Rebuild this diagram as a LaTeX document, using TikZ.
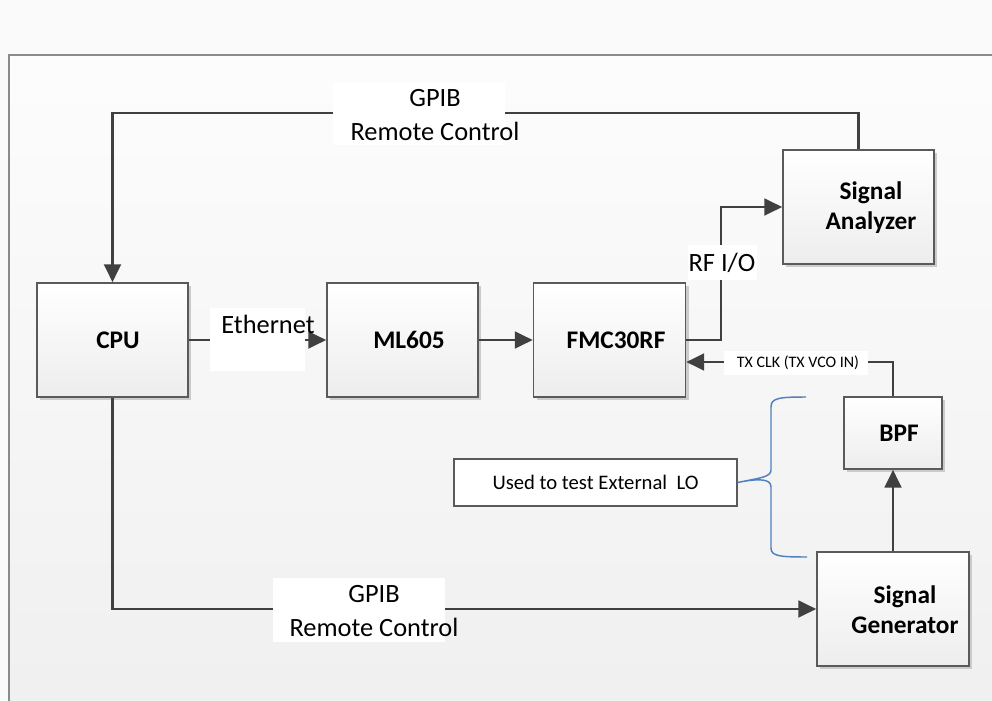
\documentclass[tikz,border=0pt]{standalone}
\usepackage{fontspec}
\setmainfont{Carlito}
\usetikzlibrary{arrows.meta,shadows}
\definecolor{conncol}{HTML}{404040}
\definecolor{boxline}{HTML}{5A5A5A}
\definecolor{framecol}{HTML}{8A8A8A}
\definecolor{bracecol}{HTML}{4F81BD}
\definecolor{shadowcol}{HTML}{CBCBCB}
\tikzset{
  blockbox/.style={draw=boxline, line width=1.1pt, top color=white, bottom color=black!7,
    shading angle=0, drop shadow={shadow xshift=2.4pt, shadow yshift=-2.4pt, fill=shadowcol, opacity=1},
    inner sep=0pt},
  blocktext/.style={font=\fontsize{19}{22.5}\selectfont\bfseries, align=center, inner sep=0pt},
  conn/.style={draw=conncol, line width=2.2pt, -{Triangle[length=13.5pt,width=12.5pt]}},
  whitelab/.style={fill=white, draw=none, inner sep=0pt},
  labtext/.style={font=\fontsize{19.8}{25}\selectfont, align=center, inner sep=0pt},
}
\begin{document}
\begin{tikzpicture}[x=0.75pt,y=-0.75pt]
\useasboundingbox (0,0) rectangle (992,700);
% background
\fill[color=white!98!black] (0,0) rectangle (992,700);
\shade[top color=white!99!black, bottom color=white!94!black] (9,55) rectangle (995,705);
\draw[framecol, line width=1.5pt] (995,55) -- (9,55) -- (9,705);

% blocks
\node[blockbox, minimum width=113.25pt, minimum height=85.5pt] (cpu) at (112.5,340) {};
\node[blockbox, minimum width=113.25pt, minimum height=85.5pt] (ml) at (402.5,340) {};
\node[blockbox, minimum width=114pt, minimum height=85.5pt] (fmc) at (609.5,340) {};
\node[blockbox, minimum width=113.25pt, minimum height=85.5pt] (sa) at (858.5,207) {};
\node[blockbox, minimum width=73.5pt, minimum height=54pt] (bpf) at (893,433) {};
\node[blockbox, minimum width=114pt, minimum height=85.5pt] (sg) at (893,609) {};

\node[blocktext] (cput) at (118,340) {CPU};
\node[blocktext] (mlt) at (409,340) {ML605};
\node[blocktext] (fmct) at (616,340) {FMC30RF};
\node[blocktext] (sat) at (871,208) {Signal\\Analyzer};
\node[blocktext] (bpft) at (899,433) {BPF};
\node[blocktext] (sgt) at (905,610) {Signal\\Generator};

% note box
\node[draw=boxline, line width=0.9pt, fill=white, minimum width=212.25pt, minimum height=35.25pt, inner sep=0pt,
  font=\fontsize{15.5}{18}\selectfont] (lo) at (595.5,482.5) {Used to test External\ \ LO};

% brace
\draw[bracecol, line width=1.1pt] (806,397) .. controls (779,397) and (771,398) .. (771,407)
  -- (771,470) .. controls (771,477) and (760,478) .. (lo.east)
  .. controls (760,478) and (771,479) .. (771,487)
  -- (771,548) .. controls (771,556) and (779,557) .. (807,557);

% connectors
\coordinate (gtop) at (0,113);
\draw[conn] (sa.north) -- (sa.north |- gtop) -| (cpu.north);
\node[whitelab, minimum width=129pt, minimum height=46.5pt] (glab1) at (419,114) {};
\node[labtext] (glab1t) at (435,115) {GPIB\\Remote Control};

\draw[conn] (cpu.east) -- (ml.west);
\node[whitelab, minimum width=71.25pt, minimum height=47.25pt] (elab) at (257.5,339.5) {};
\node[labtext] (elabt) at (268,324) {Ethernet};

\draw[conn] (ml.east) -- (fmc.west);

\coordinate (rfx) at (721,0);
\draw[conn] (fmc.east) -- (fmc.east -| rfx) |- (sa.west);
\node[whitelab, minimum width=51.75pt, minimum height=26.25pt] (rflab) at (722.5,262.5) {};
\node[labtext] (rflabt) at (722,263) {RF I/O};

\coordinate (txy) at (0,362);
\draw[conn] (bpf.north) |- (fmc.east |- txy);
\node[whitelab, minimum width=108pt, minimum height=18pt] (txlab) at (796,363) {};
\node[font=\fontsize{12}{14}\selectfont, inner sep=0pt] (txlabt) at (798,363) {TX CLK (TX VCO IN)};

\draw[conn] (sg.north) -- (bpf.south);

\draw[conn] (cpu.south) |- (sg.west);
\node[whitelab, minimum width=129pt, minimum height=48pt] (glab2) at (359,610) {};
\node[labtext] (glab2t) at (374,611) {GPIB\\Remote Control};
\end{tikzpicture}
\end{document}
